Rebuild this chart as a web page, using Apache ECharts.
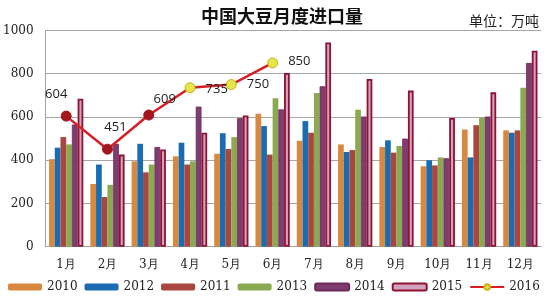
<!DOCTYPE html>
<html>
<head>
<meta charset="utf-8">
<script src="https://cdn.jsdelivr.net/npm/echarts@6/dist/echarts.min.js"></script>
<style>html,body{margin:0;padding:0;background:#fff;}#c{width:550px;height:300px;}</style>
</head>
<body>
<div id="c"></div>
<script>
var categories = ['1月','2月','3月','4月','5月','6月','7月','8月','9月','10月','11月','12月'];
var yTicks = [0, 200, 400, 600, 800, 1000];
var y2010 = [405, 290, 395, 418, 430, 615, 490, 473, 461, 372, 542, 538];
var y2012 = [458, 380, 476, 481, 525, 558, 581, 438, 492, 400, 413, 527];
var y2011 = [507, 230, 344, 380, 452, 426, 527, 447, 435, 376, 562, 538];
var y2013 = [473, 286, 380, 395, 507, 687, 711, 633, 466, 413, 596, 735];
var y2014 = [565, 476, 461, 648, 595, 635, 742, 602, 500, 409, 602, 850];
var y2015 = [684, 426, 450, 527, 607, 804, 945, 776, 722, 595, 714, 906];
var y2016 = [604, 451, 609, 735, 750, 850];

var serif = "DejaVu Serif";
var chart = echarts.init(document.getElementById('c'), null, {renderer: 'canvas'});

function barSeries(name, data, color, border, bw) {
  return {
    name: name, type: 'bar', data: data,
    barGap: '0%', barCategoryGap: '17%',
    itemStyle: {color: color, borderColor: border || color, borderWidth: bw || 0},
    emphasis: {disabled: true}
  };
}

var darkRed = '#A3151F';
var yellow = '#E4E64A';
var labelCfg = [
  {position: 'top', distance: 10, offset: [-10, 0]},
  {position: 'top', distance: 10, offset: [8, 0]},
  {position: 'top', distance: 4, offset: [16, 0]},
  {position: 'right', distance: 10, offset: [0, 2]},
  {position: 'right', distance: 10, offset: [0, 0]},
  {position: 'right', distance: 10, offset: [0, -2]}
];
var lineData = y2016.map(function (v, i) {
  var item = {value: v, label: labelCfg[i]};
  if (i < 3) item.itemStyle = {color: darkRed, borderColor: darkRed};
  return item;
});

chart.setOption({
  animation: false,
  backgroundColor: '#ffffff',
  title: [
    {text: '中国大豆月度进口量', left: 277, top: 2, textAlign: 'center',
     textStyle: {fontFamily: "Noto Sans CJK SC", fontSize: 18, fontWeight: 'bold', color: '#111'}},
    {text: '单位：万吨', right: 6, top: 9,
     textStyle: {fontFamily: "Noto Sans CJK SC", fontSize: 14, fontWeight: 'normal', color: '#222'}}
  ],
  grid: {left: 45, right: 9, top: 30.5, bottom: 53.3, containLabel: false},
  legend: {
    left: 8, top: 281, width: 545, padding: 0, itemWidth: 34, itemHeight: 7, itemGap: 7,
    textStyle: {fontFamily: serif, fontSize: 12, color: '#222'},
    data: ['2010', '2012', '2011', '2013', '2014', '2015', '2016']
  },
  xAxis: {
    type: 'category', data: categories,
    axisLine: {show: true, lineStyle: {color: '#A0A0A0', width: 1}},
    axisTick: {show: false},
    axisLabel: {fontFamily: serif, fontSize: 12, color: '#222', margin: 12}
  },
  yAxis: {
    type: 'value', min: yTicks[0], max: yTicks[yTicks.length - 1], interval: 200,
    axisLine: {show: true, lineStyle: {color: '#A0A0A0', width: 1}},
    axisTick: {show: false},
    splitLine: {show: true, lineStyle: {color: '#A6A6A6', width: 1}},
    axisLabel: {fontFamily: serif, fontSize: 12, color: '#222', margin: 12,
      formatter: function (v) { return String(v); }}
  },
  series: [
    barSeries('2010', y2010, '#D9893F'),
    barSeries('2012', y2012, '#1A6CB0'),
    barSeries('2011', y2011, '#A9463F'),
    barSeries('2013', y2013, '#8BA950'),
    barSeries('2014', y2014, '#7F3C6E', '#6E2A5C', 0.8),
    barSeries('2015', y2015, '#D2A2C0', '#8E1330', 1.8),
    {
      name: '2016', type: 'line', data: lineData,
      symbol: 'circle', symbolSize: 10,
      lineStyle: {color: '#D71E24', width: 2.5},
      itemStyle: {color: yellow, borderColor: '#C9B21C', borderWidth: 1},
      label: {show: true, color: '#222', fontFamily: "Open Sans", fontSize: 13},
      emphasis: {disabled: true},
      z: 10
    }
  ]
});
</script>
</body>
</html>
